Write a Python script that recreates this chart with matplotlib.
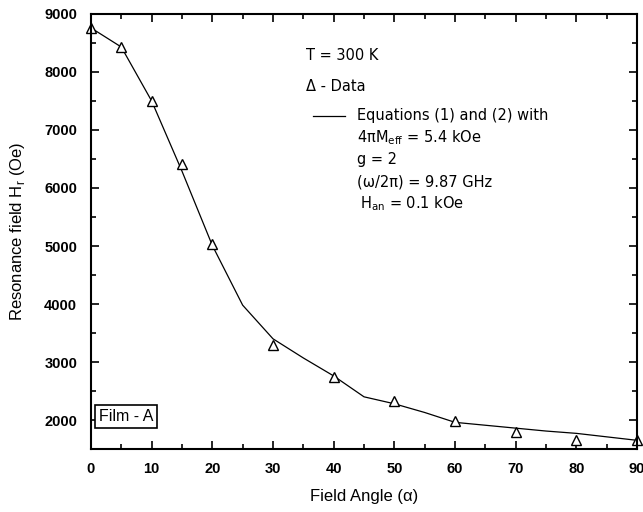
import matplotlib
matplotlib.use("Agg")
import matplotlib.pyplot as plt
from matplotlib.ticker import MultipleLocator

# Data
angle_data = [0, 5, 10, 15, 20, 30, 40, 50, 60, 70, 80, 90]
hr_data = [8750, 8430, 7500, 6410, 5030, 3290, 2740, 2330, 1980, 1790, 1650, 1660]

angle_fit = [0, 5, 10, 15, 20, 25, 30, 35, 40, 45, 50, 55, 60, 65, 70, 75, 80, 85, 90]
hr_fit = [8760, 8430, 7500, 6290, 5010, 3980, 3400, 3070, 2760, 2400, 2280, 2130, 1960, 1910, 1860, 1810, 1770, 1710, 1650]

x_ticks = [0, 10, 20, 30, 40, 50, 60, 70, 80, 90]
y_ticks = [2000, 3000, 4000, 5000, 6000, 7000, 8000, 9000]

fig = plt.figure(figsize=(6.43, 5.12), dpi=100)
ax = fig.add_axes([0.1415, 0.123, 0.8492, 0.8497])

ax.plot(angle_fit, hr_fit, color="black", lw=0.9)
ax.plot(angle_data, hr_data, linestyle="none", marker="^", markersize=7,
        markerfacecolor="white", markeredgecolor="black", markeredgewidth=1.0, clip_on=False)

ax.set_xlim(0, 90)
ax.set_ylim(1500, 9000)
ax.set_xticks(x_ticks)
ax.set_yticks(y_ticks)
ax.xaxis.set_minor_locator(MultipleLocator(5))
ax.yaxis.set_minor_locator(MultipleLocator(500))
ax.tick_params(which="both", direction="in", top=True, right=True, width=1.2)
ax.tick_params(which="major", length=6)
ax.tick_params(which="minor", length=3.5)
ax.tick_params(axis="x", which="major", pad=9)
ax.tick_params(axis="y", which="major", pad=10)
for lab in ax.get_xticklabels() + ax.get_yticklabels():
    lab.set_fontfamily("Liberation Sans")
    lab.set_fontweight("bold")
    lab.set_fontsize(10.5)
for s in ax.spines.values():
    s.set_linewidth(1.5)

ax.set_xlabel("Field Angle (α)", fontfamily="Liberation Sans", fontsize=12, labelpad=10)
ax.set_ylabel(r"Resonance field H$_{\mathregular{r}}$ (Oe)", fontfamily="Liberation Sans", fontsize=12, labelpad=12)

tf = dict(transform=ax.transAxes, fontfamily="DejaVu Sans", fontsize=10.5, va="center", ha="left")
def ax_xy(px, py):
    return ((px - 91) / 546.0, (449 - py) / 435.0)

ax.text(*ax_xy(306, 56), "T = 300 K", **tf)
ax.text(*ax_xy(306, 87), "Δ - Data", **tf)
x0, y0 = ax_xy(313, 116)
x1, _ = ax_xy(345, 116)
ax.plot([x0, x1], [y0, y0], color="black", lw=0.9, transform=ax.transAxes)
ax.text(*ax_xy(357, 116), "Equations (1) and (2) with", **tf)
ax.text(*ax_xy(357, 138), r"4πM$_{\mathregular{eff}}$ = 5.4 kOe", **tf)
ax.text(*ax_xy(357, 160), "g = 2", **tf)
ax.text(*ax_xy(357, 182), "(ω/2π) = 9.87 GHz", **tf)
ax.text(*ax_xy(360, 204), r"H$_{\mathregular{an}}$ = 0.1 kOe", **tf)

ax.text(*ax_xy(99, 416), "Film - A", transform=ax.transAxes, fontfamily="Liberation Sans",
        fontsize=11.5, va="center", ha="left",
        bbox=dict(boxstyle="square,pad=0.25", facecolor="white", edgecolor="black", lw=1.2))

fig.savefig("out.png", dpi=100)
